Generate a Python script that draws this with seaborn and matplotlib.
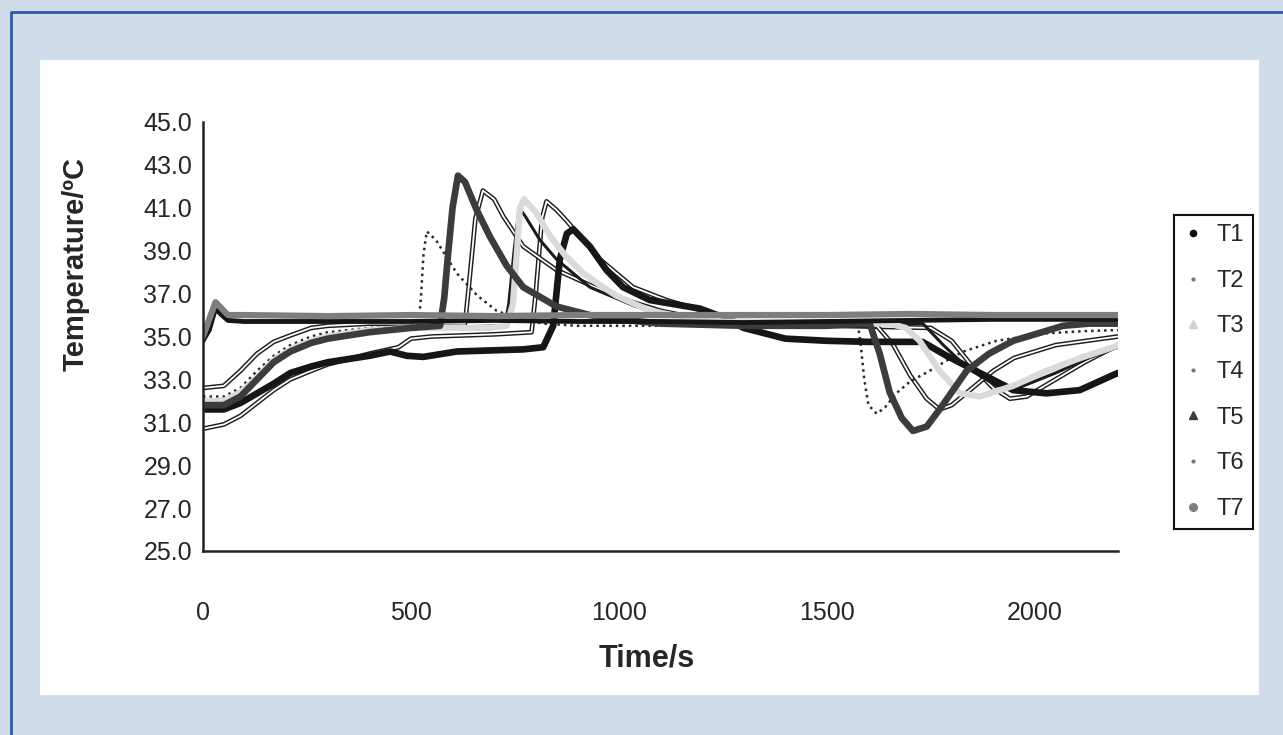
import matplotlib
matplotlib.use("Agg")
import matplotlib.pyplot as plt
import matplotlib.patheffects as pe
from matplotlib.lines import Line2D
from matplotlib.patches import Rectangle
import seaborn as sns

# ---------------- data ----------------
t1_t = [0, 15, 30, 45, 60, 100, 300, 500, 700, 900, 1100, 1300, 1500, 1700, 1900, 2100, 2200]
t1_v = [34.8, 35.3, 36.3, 36.0, 35.75, 35.7, 35.7, 35.7, 35.75, 35.7, 35.7, 35.65, 35.7, 35.75, 35.8, 35.8, 35.8]

t7_t = [0, 15, 30, 45, 60, 100, 300, 500, 700, 900, 1100, 1300, 1500, 1700, 1900, 2100, 2200]
t7_v = [35.0, 35.8, 36.6, 36.3, 36.0, 36.0, 35.95, 36.0, 35.95, 36.0, 36.0, 36.0, 36.0, 36.05, 36.0, 36.0, 36.0]

# T6 - dotted, first peak and first dip
t6_t = [0, 50, 90, 130, 170, 210, 260, 300, 400, 500, 518, 524, 530, 538, 560, 610, 660, 706, 760, 820, 900,
        1100, 1300, 1500, 1575, 1582, 1590, 1600, 1620, 1640, 1667, 1700, 1747, 1790, 1828, 1908, 2028, 2120, 2200]
t6_v = [32.2, 32.2, 32.6, 33.4, 34.1, 34.6, 35.0, 35.2, 35.4, 35.5, 35.5, 36.8, 38.8, 39.9, 39.5, 37.95, 36.9, 36.2, 35.8, 35.6, 35.5,
        35.5, 35.5, 35.5, 35.5, 34.5, 33.0, 31.8, 31.4, 31.7, 32.35, 32.9, 33.4, 33.9, 34.3, 34.8, 35.15, 35.25, 35.3]

# T5 - dark thick
t5_t = [0, 50, 90, 130, 170, 210, 260, 300, 400, 500, 570, 580, 590, 600, 613, 630, 658, 690, 730, 770, 850, 930, 1000,
        1100, 1300, 1500, 1590, 1603, 1627, 1651, 1680, 1707, 1740, 1771, 1800, 1836, 1890, 1948, 2000, 2068, 2130, 2200]
t5_v = [31.8, 31.8, 32.2, 33.0, 33.8, 34.3, 34.7, 34.9, 35.2, 35.4, 35.5, 36.8, 39.0, 41.0, 42.5, 42.2, 40.9, 39.65, 38.3, 37.3, 36.4, 36.0, 35.8,
        35.6, 35.5, 35.5, 35.6, 35.6, 34.2, 32.4, 31.2, 30.6, 30.8, 31.6, 32.4, 33.4, 34.2, 34.8, 35.1, 35.5, 35.6, 35.6]

# T2 - thin, peak ~41.8
t2_t = [0, 50, 90, 130, 170, 210, 260, 300, 400, 500, 630, 640, 655, 673, 700, 722, 770, 850, 930, 1000, 1100, 1200, 1300,
        1500, 1620, 1660, 1700, 1740, 1771, 1800, 1850, 1900, 1950, 2050, 2200]
t2_v = [32.6, 32.7, 33.4, 34.2, 34.75, 35.05, 35.4, 35.5, 35.6, 35.6, 35.6, 37.5, 40.5, 41.8, 41.4, 40.6, 39.2, 38.1, 37.4, 36.8, 36.2, 35.8, 35.6,
        35.5, 35.5, 34.6, 33.2, 32.1, 31.6, 31.8, 32.6, 33.4, 34.0, 34.6, 35.0]

# T3 - light grey thick
t3_t = [0, 50, 90, 130, 170, 210, 260, 300, 400, 500, 690, 730, 745, 755, 762, 772, 800, 834, 870, 914, 954, 994, 1074, 1155, 1250,
        1650, 1690, 1723, 1771, 1820, 1868, 1948, 2028, 2110, 2188, 2200]
t3_v = [32.0, 32.0, 32.4, 33.1, 33.9, 34.4, 34.8, 35.0, 35.3, 35.4, 35.4, 35.5, 36.5, 39.0, 41.0, 41.4, 40.8, 39.7, 38.8, 37.95, 37.4, 36.9, 36.2, 35.9, 35.7,
        35.6, 35.4, 34.8, 33.4, 32.35, 32.2, 32.7, 33.4, 34.0, 34.5, 34.6]

# T4 - thin, last thin peak
t4_t = [0, 50, 90, 130, 170, 210, 260, 300, 400, 470, 500, 550, 700, 790, 800, 815, 826, 850, 874, 954, 1034, 1114, 1202, 1300,
        1750, 1800, 1850, 1900, 1940, 1980, 2050, 2120, 2200]
t4_v = [30.7, 30.9, 31.3, 31.9, 32.5, 33.0, 33.4, 33.7, 34.2, 34.5, 34.9, 35.0, 35.1, 35.2, 37.0, 40.5, 41.3, 40.9, 40.4, 38.6, 37.3, 36.7, 36.2, 35.6,
        35.4, 34.8, 33.6, 32.6, 32.1, 32.2, 33.0, 33.8, 34.6]

# unlabelled black traces visible in the chart
blk_a_t = [0, 50, 90, 130, 170, 210, 260, 300, 400, 450, 490, 530, 610, 770, 818, 842, 858, 875, 890, 930, 970, 1010, 1074, 1195,
           1250, 1300, 1400, 1500, 1600, 1730, 1788, 1868, 1948, 2028, 2108, 2188, 2200]
blk_a_v = [31.6, 31.6, 31.9, 32.35, 32.8, 33.3, 33.6, 33.8, 34.1, 34.3, 34.1, 34.05, 34.3, 34.4, 34.5, 35.5, 38.6, 39.8, 40.0, 39.2, 38.1, 37.3, 36.7, 36.3,
           35.9, 35.4, 34.9, 34.8, 34.75, 34.75, 34.1, 33.3, 32.5, 32.35, 32.5, 33.2, 33.3]

blk_b_t = [0, 50, 90, 130, 170, 210, 260, 300, 400, 500, 725, 735, 748, 760, 775, 810, 850, 930, 1040, 1150, 1300,
           1700, 1731, 1780, 1840, 1908, 1960, 2050, 2130, 2200]
blk_b_v = [31.9, 31.9, 32.3, 33.0, 33.8, 34.3, 34.7, 34.9, 35.2, 35.4, 35.5, 36.5, 39.0, 41.0, 40.6, 39.5, 38.6, 37.3, 36.4, 35.9, 35.6,
           35.6, 35.6, 34.6, 33.5, 32.7, 32.6, 33.3, 34.0, 34.5]

legend_labels = ["T1", "T2", "T3", "T4", "T5", "T6", "T7"]
x_ticks = [0, 500, 1000, 1500, 2000]
y_ticks = [25, 27, 29, 31, 33, 35, 37, 39, 41, 43, 45]

# ---------------- figure ----------------
sns.set_style("white")
plt.rcParams["font.family"] = ["Liberation Sans", "DejaVu Sans"]

W, H = 1283, 735
fig = plt.figure(figsize=(W / 100, H / 100), dpi=100)
fig.patch.set_facecolor("#D0DCEA")

# white panel + blue frame line
fig.add_artist(Rectangle((40 / W, 1 - 695 / H), (1259 - 40) / W, (695 - 60) / H,
                         transform=fig.transFigure, facecolor="white", edgecolor="none", zorder=0))
fig.add_artist(Line2D([11 / W, 11 / W, 1], [0, 1 - 12 / H, 1 - 12 / H],
                      transform=fig.transFigure, color="#2A5BA8", lw=2))

ax = fig.add_axes([203 / W, 1 - 551 / H, (1118 - 203) / W, (551 - 122) / H])
ax.set_facecolor("none")

thin_fx = [pe.Stroke(linewidth=3.4, foreground="#1e1e1e"), pe.Normal()]

sns.lineplot(x=t4_t, y=t4_v, ax=ax, color="white", lw=1.3, path_effects=thin_fx)
sns.lineplot(x=t2_t, y=t2_v, ax=ax, color="white", lw=1.3, path_effects=thin_fx)
sns.lineplot(x=t6_t, y=t6_v, ax=ax, color="#2a2a2a", lw=1.8, linestyle=(0, (1, 1.6)))
sns.lineplot(x=blk_b_t, y=blk_b_v, ax=ax, color="#1a1a1a", lw=2.2)
sns.lineplot(x=blk_a_t, y=blk_a_v, ax=ax, color="#161616", lw=4.8)
sns.lineplot(x=t3_t, y=t3_v, ax=ax, color="#DADADA", lw=4.5)
sns.lineplot(x=t5_t, y=t5_v, ax=ax, color="#3C3C3C", lw=4.8)
sns.lineplot(x=t1_t, y=t1_v, ax=ax, color="#151515", lw=3.5)
sns.lineplot(x=t7_t, y=t7_v, ax=ax, color="#7E7E7E", lw=4.5)

ax.set_xlim(0, 2200)
ax.set_ylim(25, 45)
ax.set_xticks(x_ticks)
ax.set_yticks(y_ticks)
ax.set_yticklabels([f"{v:.1f}" for v in y_ticks])
ax.tick_params(axis="both", labelsize=18, width=1.5, color="#222222", direction="out")
ax.tick_params(axis="x", length=9, pad=27)
ax.tick_params(axis="y", length=7, pad=1)
for side in ["top", "right"]:
    ax.spines[side].set_visible(False)
for side in ["left", "bottom"]:
    ax.spines[side].set_color("#222222")
    ax.spines[side].set_linewidth(1.8)

ax.set_xlabel("Time/s", fontsize=22, fontweight="bold")
ax.xaxis.set_label_coords(0.485, -0.215)
ax.set_ylabel("Temperature/ºC", fontsize=21, fontweight="bold")
ax.yaxis.set_label_coords(-0.124, 0.67)

# legend: markers only, like the spreadsheet chart
marker_styles = [
    dict(marker="o", color="#111111", markersize=4.5),
    dict(marker="o", color="#777777", markersize=2),
    dict(marker="^", color="#D0D0D0", markersize=6),
    dict(marker="o", color="#777777", markersize=2),
    dict(marker="^", color="#3A3A3A", markersize=6),
    dict(marker="o", color="#777777", markersize=2),
    dict(marker="o", color="#7E7E7E", markersize=5.5),
]
handles = [Line2D([], [], linestyle="none", **st) for st in marker_styles]
leg = fig.legend(handles, legend_labels, loc="center left",
                 bbox_to_anchor=(1162 / W, 1 - 372 / H), fontsize=17,
                 frameon=True, fancybox=False, framealpha=1, edgecolor="#111111",
                 handlelength=0.8, handletextpad=0.6, labelspacing=1.0, borderpad=0.4)
leg.get_frame().set_linewidth(1.5)

fig.savefig("out.png", dpi=100, facecolor=fig.get_facecolor())
